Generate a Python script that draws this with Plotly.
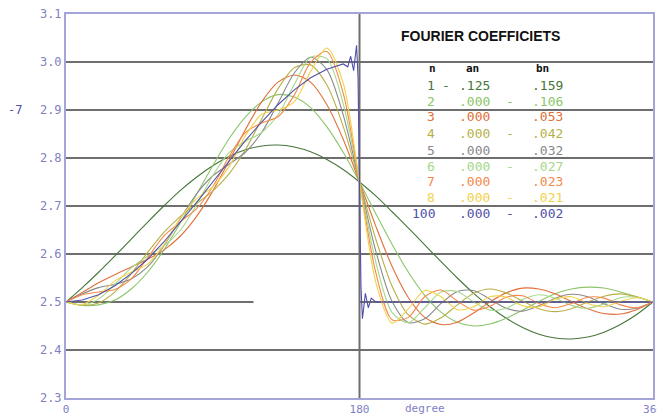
import plotly.graph_objects as go

# ---------------- data ----------------
DEG = list(range(0, 361, 10))

N1 = [2.5, 2.530, 2.562, 2.596, 2.631, 2.666, 2.700, 2.732, 2.760, 2.784, 2.803, 2.817, 2.825, 2.827, 2.823, 2.813, 2.797, 2.776, 2.75,
      2.721, 2.688, 2.654, 2.619, 2.584, 2.550, 2.518, 2.490, 2.466, 2.447, 2.433, 2.425, 2.423, 2.427, 2.437, 2.453, 2.474, 2.5]
N2 = [2.5, 2.493, 2.494, 2.504, 2.527, 2.562, 2.608, 2.664, 2.724, 2.784, 2.840, 2.885, 2.917, 2.932, 2.927, 2.905, 2.865, 2.812, 2.75,
      2.684, 2.620, 2.562, 2.514, 2.479, 2.458, 2.450, 2.454, 2.466, 2.483, 2.501, 2.517, 2.527, 2.531, 2.529, 2.521, 2.511, 2.5]
N3 = [2.5, 2.520, 2.540, 2.557, 2.573, 2.589, 2.608, 2.637, 2.678, 2.731, 2.794, 2.859, 2.917, 2.958, 2.973, 2.958, 2.911, 2.839, 2.75,
      2.658, 2.574, 2.509, 2.468, 2.453, 2.458, 2.477, 2.500, 2.519, 2.529, 2.527, 2.517, 2.501, 2.486, 2.476, 2.475, 2.484, 2.5]
N4 = [2.5, 2.493, 2.498, 2.521, 2.559, 2.603, 2.645, 2.678, 2.705, 2.731, 2.767, 2.817, 2.881, 2.944, 2.988, 2.994, 2.952, 2.866, 2.75,
      2.631, 2.533, 2.473, 2.454, 2.467, 2.494, 2.518, 2.527, 2.519, 2.502, 2.486, 2.480, 2.486, 2.500, 2.512, 2.517, 2.511, 2.5]
N5 = [2.5, 2.517, 2.530, 2.537, 2.548, 2.573, 2.617, 2.673, 2.725, 2.763, 2.787, 2.812, 2.853, 2.914, 2.977, 3.010, 2.984, 2.890, 2.75,
      2.606, 2.501, 2.457, 2.465, 2.497, 2.522, 2.524, 2.506, 2.487, 2.481, 2.492, 2.508, 2.516, 2.511, 2.496, 2.485, 2.487, 2.5]
N6 = [2.5, 2.494, 2.506, 2.537, 2.571, 2.596, 2.617, 2.649, 2.702, 2.763, 2.811, 2.835, 2.853, 2.890, 2.953, 3.010, 3.007, 2.913, 2.75,
      2.583, 2.478, 2.457, 2.488, 2.521, 2.522, 2.500, 2.483, 2.487, 2.505, 2.515, 2.508, 2.493, 2.487, 2.496, 2.509, 2.510, 2.5]
N7 = [2.5, 2.515, 2.521, 2.526, 2.548, 2.592, 2.637, 2.667, 2.694, 2.740, 2.803, 2.853, 2.873, 2.886, 2.931, 2.999, 3.022, 2.935, 2.75,
      2.561, 2.463, 2.468, 2.511, 2.525, 2.502, 2.483, 2.491, 2.510, 2.513, 2.497, 2.488, 2.497, 2.510, 2.508, 2.494, 2.488, 2.5]
N8 = [2.5, 2.495, 2.514, 2.544, 2.562, 2.579, 2.619, 2.674, 2.715, 2.740, 2.782, 2.846, 2.891, 2.900, 2.917, 2.980, 3.029, 2.956, 2.75,
      2.541, 2.456, 2.486, 2.524, 2.511, 2.484, 2.490, 2.511, 2.510, 2.492, 2.490, 2.506, 2.511, 2.497, 2.490, 2.501, 2.509, 2.5]

DEG100 = [0, 10, 20, 30, 40, 50, 60, 70, 80, 90, 100, 110, 120, 130, 140, 150, 160, 170,
          172.8, 174.6, 176.4, 178.2, 179.1, 180, 180.9, 181.8, 183.6, 185.4, 187.2, 190, 360]
N100 = [2.5, 2.504, 2.515, 2.534, 2.559, 2.589, 2.625, 2.665, 2.707, 2.75, 2.793, 2.836, 2.875, 2.911, 2.942, 2.967, 2.985, 2.996,
        2.990, 3.012, 2.982, 3.035, 2.968, 2.75, 2.532, 2.465, 2.518, 2.488, 2.508, 2.5, 2.5]

SERIES = [N1, N2, N3, N4, N5, N6, N7, N8]
COLORS = ['#46763a', '#8cc56a', '#e0703a', '#b8b048', '#8a8a8a', '#a6d88a', '#f5884a', '#f2d24a', '#5050a8']

LEG_N = ['1', '2', '3', '4', '5', '6', '7', '8', '100']
AN = [-0.125, 0.0, 0.0, 0.0, 0.0, 0.0, 0.0, 0.0, 0.0]
BN = [0.159, -0.106, 0.053, -0.042, 0.032, -0.027, 0.023, -0.021, -0.002]

Y_TICKS = [2.3, 2.4, 2.5, 2.6, 2.7, 2.8, 2.9, 3.0, 3.1]
X_TICKS = [0, 180, 360]
GRID_Y = [2.4, 2.6, 2.7, 2.8, 2.9, 3.0]
GRID_25_SEGMENTS = [(0, 115), (180, 360)]

TITLE = 'FOURIER COEFFICIETS'

# ---------------- figure ----------------
# The page body has an 8px margin, so the figure is drawn 8px in from the window corner.
OFF = 8
W, H = 665 - OFF, 415 - OFF
L, R, T, B = 66 - OFF, 12, 14 - OFF, 17
PW, PH = W - L - R, H - T - B

def px(x):
    return (x - OFF - L) / PW

def py(y):
    return (H - B - (y - OFF)) / PH

AXIS_C = '#a4a4d8'
TICK_C = '#8080c4'
GRID_C = '#6e6e6e'
MONO = 'DejaVu Sans Mono'

fig = go.Figure()

for s, c in zip(SERIES, COLORS[:8]):
    fig.add_trace(go.Scatter(x=DEG, y=s, mode='lines',
                             line=dict(color=c, width=1.1, shape='spline', smoothing=0.8),
                             hoverinfo='skip'))
fig.add_trace(go.Scatter(x=DEG100, y=N100, mode='lines',
                         line=dict(color=COLORS[8], width=1.1), hoverinfo='skip'))

shapes = []
for g in GRID_Y:
    shapes.append(dict(type='line', xref='x', yref='y', x0=0, x1=360, y0=g, y1=g,
                       line=dict(color=GRID_C, width=2), layer='below'))
for a, b in GRID_25_SEGMENTS:
    shapes.append(dict(type='line', xref='x', yref='y', x0=a, x1=b, y0=2.5, y1=2.5,
                       line=dict(color=GRID_C, width=2), layer='below'))
shapes.append(dict(type='line', xref='x', yref='paper', x0=180, x1=180, y0=0, y1=1,
                   line=dict(color=GRID_C, width=2), layer='below'))

ann = []
ann.append(dict(x=px(480), y=py(36), xref='paper', yref='paper', text=TITLE, showarrow=False,
                xanchor='center', yanchor='middle',
                font=dict(family='Liberation Sans', size=14, color='#111111', weight='bold')))
# header
for txt, xx in [('n', 432), ('an', 472), ('bn', 542)]:
    ann.append(dict(x=px(xx), y=py(68), xref='paper', yref='paper', text=txt, showarrow=False,
                    xanchor='center', yanchor='middle',
                    font=dict(family=MONO, size=11, color='#111111', weight='bold')))
ROW_Y = [85, 101, 117, 133, 150, 166, 181, 197, 213]
for n, a, b, yy, c in zip(LEG_N, AN, BN, ROW_Y, COLORS):
    f = dict(family=MONO, size=13, color=c)
    ann.append(dict(x=px(437), y=py(yy), xref='paper', yref='paper', text=n, showarrow=False,
                    xanchor='right', yanchor='middle', font=f))
    if a < 0:
        ann.append(dict(x=px(446), y=py(yy), xref='paper', yref='paper', text='-', showarrow=False,
                        xanchor='center', yanchor='middle', font=f))
    ann.append(dict(x=px(457), y=py(yy), xref='paper', yref='paper', text=('%.3f' % abs(a))[1:],
                    showarrow=False, xanchor='left', yanchor='middle', font=f))
    if b < 0:
        ann.append(dict(x=px(510), y=py(yy), xref='paper', yref='paper', text='-', showarrow=False,
                        xanchor='center', yanchor='middle', font=f))
    ann.append(dict(x=px(530), y=py(yy), xref='paper', yref='paper', text=('%.3f' % abs(b))[1:],
                    showarrow=False, xanchor='left', yanchor='middle', font=f))

ann.append(dict(x=px(425), y=py(408), xref='paper', yref='paper', text='degree', showarrow=False,
                xanchor='center', yanchor='middle', font=dict(family=MONO, size=11, color=TICK_C)))
ann.append(dict(x=px(15), y=py(110), xref='paper', yref='paper', text='-7', showarrow=False,
                xanchor='center', yanchor='middle', font=dict(family=MONO, size=12, color='#5050a8')))

fig.update_layout(
    width=W, height=H,
    margin=dict(l=L, r=R, t=T, b=B, pad=0),
    paper_bgcolor='white', plot_bgcolor='white',
    showlegend=False,
    shapes=shapes, annotations=ann,
    xaxis=dict(range=[0, 360], tickvals=X_TICKS, ticktext=[str(v) for v in X_TICKS],
               showline=True, mirror=True, linecolor=AXIS_C, linewidth=2,
               showgrid=False, zeroline=False, ticks='', automargin=False, ticklabelstandoff=0,
               ticklabeloverflow='allow',
               tickfont=dict(family=MONO, size=11, color=TICK_C)),
    yaxis=dict(range=[2.3, 3.1], tickvals=Y_TICKS, tickformat='.1f',
               showline=True, mirror=True, linecolor=AXIS_C, linewidth=2,
               showgrid=False, zeroline=False, ticks='', automargin=False,
               ticklabeloverflow='allow',
               tickfont=dict(family=MONO, size=12, color=TICK_C)),
)

fig.write_html('out.html')
